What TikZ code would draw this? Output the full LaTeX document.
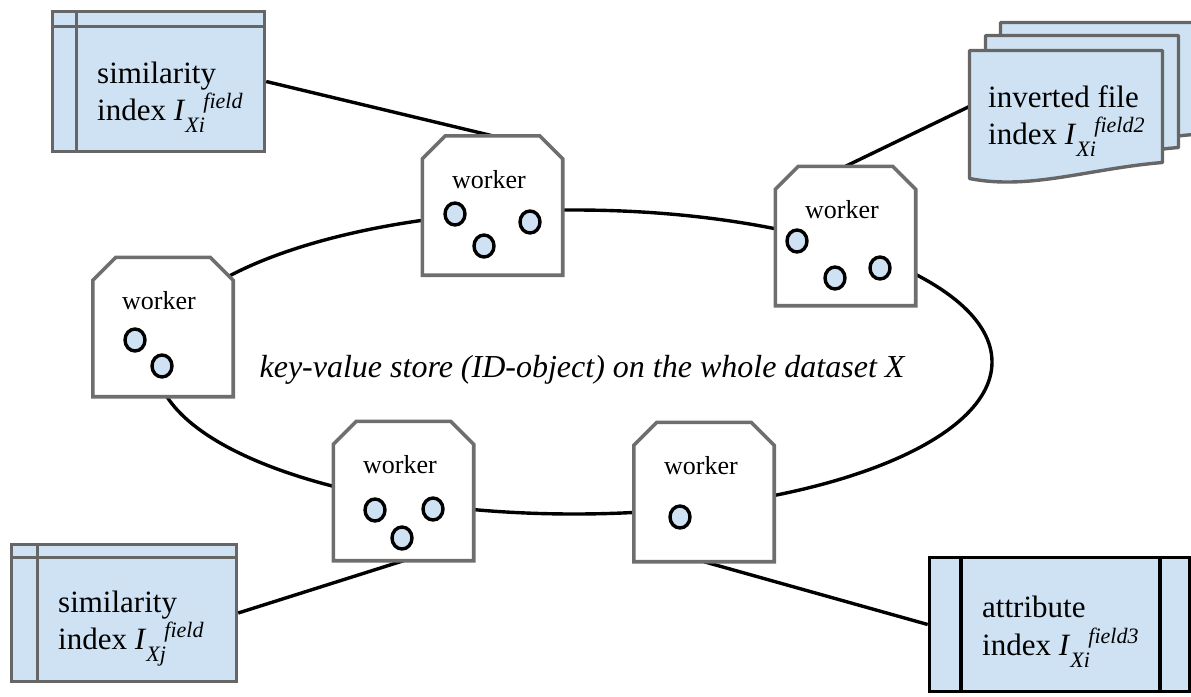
\documentclass[tikz,border=0pt]{standalone}
\usepackage{fontspec}
\setmainfont{Liberation Serif}
\usetikzlibrary{shapes.geometric,calc,backgrounds}
\definecolor{idxblue}{HTML}{CFE2F3}
\definecolor{bordergray}{HTML}{666666}
\definecolor{workgray}{HTML}{6E6E6E}
\newcommand{\idxsym}[2]{\textit{I}\raisebox{-12pt}{\fontsize{22}{22}\selectfont\itshape #1}\kern-1.5pt\raisebox{12pt}{\fontsize{22}{22}\selectfont\itshape #2}}
\newcommand{\workershape}[1]{%
  \draw[wshape] (#1.south west) -- ([yshift=-23pt]#1.north west) -- ([xshift=23pt]#1.north west)
    -- ([xshift=-23pt]#1.north east) -- ([yshift=-23pt]#1.north east) -- (#1.south east) -- cycle;}
\newcommand{\docpage}{(0,0) -- (193,0) -- (193,112) .. controls (120,118) and (60,140) .. (0,128) -- cycle}
\begin{document}
\begin{tikzpicture}[x=1pt,y=-1pt,
  conn/.style={draw=black, line width=3.4pt},
  idxbox/.style={draw=bordergray, fill=idxblue, line width=3.4pt, inner sep=0pt},
  idxline/.style={draw=bordergray, line width=3.4pt},
  attrbox/.style={draw=black, fill=idxblue, line width=3.6pt, inner sep=0pt},
  attrline/.style={draw=black, line width=3.6pt},
  docshape/.style={draw=bordergray, fill=idxblue, line width=3.4pt, line join=round},
  wnode/.style={inner sep=0pt, minimum width=140pt, minimum height=139pt},
  wshape/.style={draw=workgray, fill=white, line width=3.6pt},
  wlabel/.style={anchor=base, inner sep=0pt, font=\fontsize{26}{30}\selectfont},
  obj/.style={ellipse, draw=black, fill=idxblue, line width=3.4pt, inner sep=0pt, minimum width=20pt, minimum height=22pt},
  idxtext/.style={anchor=base west, inner sep=0pt, font=\fontsize{31}{37}\selectfont},
]
\useasboundingbox (0,0) rectangle (1191,696);

% ---------- anchor nodes (invisible) ----------
\node[wnode] (w1) at (492.5,205.5) {};
\node[wnode] (w2) at (163,327) {};
\node[wnode] (w3) at (845.5,236) {};
\node[wnode] (w4) at (403.5,491) {};
\node[wnode] (w5) at (704,492) {};

% ---------- index boxes ----------
\node[idxbox, minimum width=212pt, minimum height=140pt] (simTL) at (158.5,81.5) {};
\draw[idxline] ($(simTL.north west)+(25.5,0)$) -- ($(simTL.south west)+(25.5,0)$);
\draw[idxline] ($(simTL.north west)+(0,16.5)$) -- ($(simTL.north east)+(0,16.5)$);
\node[idxtext] (simTLa) at (97,83) {similarity};
\node[idxtext] (simTLb) at (97,120) {index \idxsym{Xi}{field}};

\node[idxbox, minimum width=225pt, minimum height=137pt] (simBL) at (124,613) {};
\draw[idxline] ($(simBL.north west)+(27.5,0)$) -- ($(simBL.south west)+(27.5,0)$);
\draw[idxline] ($(simBL.north west)+(0,14.5)$) -- ($(simBL.north east)+(0,14.5)$);
\node[idxtext] (simBLa) at (58,612) {similarity};
\node[idxtext] (simBLb) at (58,649) {index \idxsym{Xj}{field}};

\node[attrbox, minimum width=260pt, minimum height=134pt] (attr) at (1059.5,624.5) {};
\draw[attrline] ($(attr.north west)+(33.5,0)$) -- ($(attr.south west)+(33.5,0)$);
\draw[attrline] ($(attr.north west)+(232.5,0)$) -- ($(attr.south west)+(232.5,0)$);
\node[idxtext] (attra) at (982,617) {attribute};
\node[idxtext] (attrb) at (982,655) {index \idxsym{Xi}{field3}};

% inverted file (stack of pages)
\begin{scope}[shift={(969.5,50.5)}]
  \draw[docshape, shift={(31,-28)}] \docpage;
  \draw[docshape, shift={(16,-15)}] \docpage;
  \draw[docshape] \docpage;
\end{scope}
\node[inner sep=0pt, minimum width=193pt, minimum height=128pt] (inv) at (1066,114.5) {};
\node[idxtext] (inva) at (988,107) {inverted file};
\node[idxtext] (invb) at (988,144) {index \idxsym{Xi}{field2}};

% ---------- ring and connectors (behind) ----------
\begin{pgfonlayer}{background}
  \node[ellipse, draw=black, line width=3.4pt, inner sep=0pt, minimum width=836pt, minimum height=304pt] (ring) at (574,362) {};
  \draw[conn] (simTL.east) -- (w1.north);
  \draw[conn] ([yshift=8pt]inv.west) -- (w3.north);
  \draw[conn] (simBL.east) -- (w4.south);
  \draw[conn] (attr.west) -- (w5.south);
\end{pgfonlayer}

\node[anchor=base, inner sep=0pt, font=\fontsize{32}{38}\selectfont\itshape] (kv) at (582,377) {key-value store (ID-object) on the whole dataset X};

% ---------- workers ----------
\workershape{w1}
\node[wlabel] (w1l) at ($(w1.north)+(-3.5,52.5)$) {worker};
\node[obj] (w1a) at (455,214) {};
\node[obj] (w1b) at (484,246) {};
\node[obj] (w1c) at (530,222) {};

\workershape{w2}
\node[wlabel] (w2l) at ($(w2.north)+(-4,52.5)$) {worker};
\node[obj] (w2a) at (135,340) {};
\node[obj] (w2b) at (162,366) {};

\workershape{w3}
\node[wlabel] (w3l) at ($(w3.north)+(-3.5,52.5)$) {worker};
\node[obj] (w3a) at (797,241) {};
\node[obj] (w3b) at (835,278) {};
\node[obj] (w3c) at (880,268) {};

\workershape{w4}
\node[wlabel] (w4l) at ($(w4.north)+(-3.5,52.5)$) {worker};
\node[obj] (w4a) at (375,510) {};
\node[obj] (w4b) at (402,538) {};
\node[obj] (w4c) at (433,509) {};

\workershape{w5}
\node[wlabel] (w5l) at ($(w5.north)+(-3,52.5)$) {worker};
\node[obj] (w5a) at (680,517) {};
\end{tikzpicture}
\end{document}
